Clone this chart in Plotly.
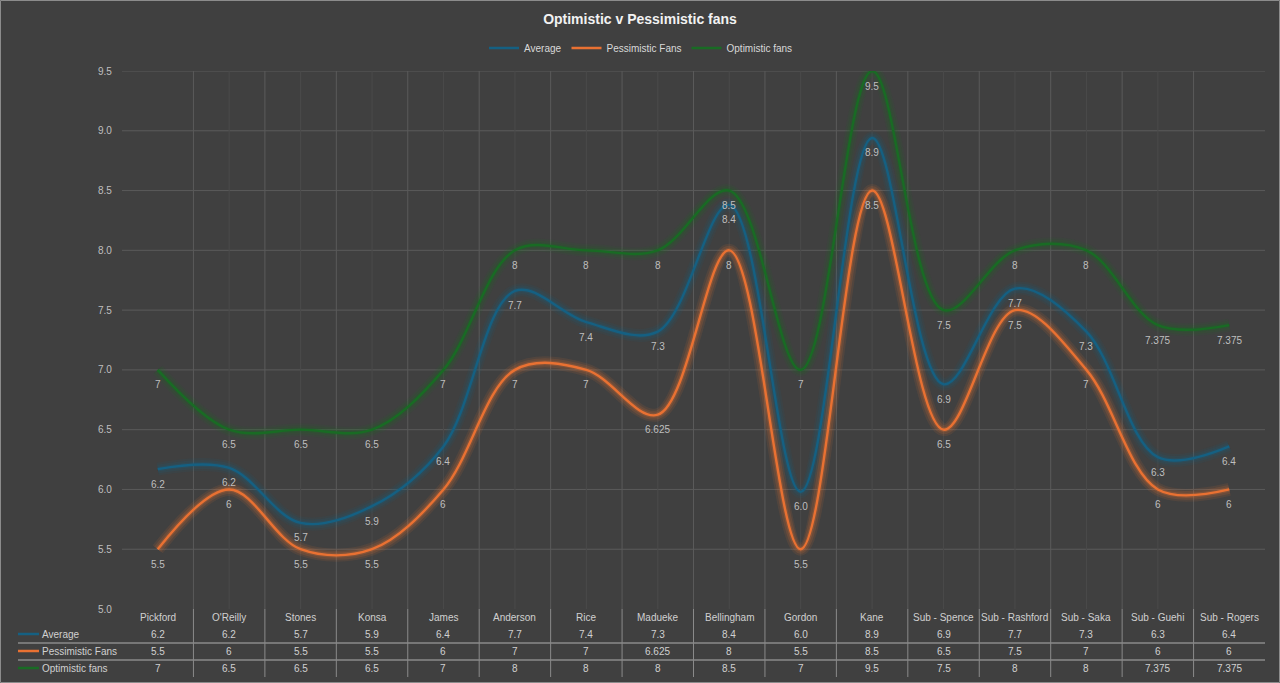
import plotly.graph_objects as go

# ---------------- data ----------------
players = ["Pickford", "O'Reilly", "Stones", "Konsa", "James", "Anderson", "Rice",
           "Madueke", "Bellingham", "Gordon", "Kane", "Sub - Spence",
           "Sub - Rashford", "Sub - Saka", "Sub - Guehi", "Sub - Rogers"]
average = [6.17, 6.18, 5.72, 5.86, 6.36, 7.66, 7.40, 7.32, 8.38, 5.98, 8.94,
           6.88, 7.68, 7.32, 6.27, 6.36]
pessimistic = [5.5, 6, 5.5, 5.5, 6, 7, 7, 6.625, 8, 5.5, 8.5, 6.5, 7.5, 7, 6, 6]
optimistic = [7, 6.5, 6.5, 6.5, 7, 8, 8, 8, 8.5, 7, 9.5, 7.5, 8, 8, 7.375, 7.375]
y_ticks = [5.0, 5.5, 6.0, 6.5, 7.0, 7.5, 8.0, 8.5, 9.0, 9.5]

series = [
    ("Average", average, "#156082", (21, 96, 130), lambda v: f"{v:.1f}"),
    ("Pessimistic Fans", pessimistic, "#E97132", (233, 113, 50), lambda v: f"{v:g}"),
    ("Optimistic fans", optimistic, "#196B24", (25, 107, 36), lambda v: f"{v:g}"),
]

# ---------------- geometry ----------------
W, H = 1280, 683
L, R, T, B = 122, 1265, 71, 609
PW, PH = R - L, B - T
n = len(players)
x = list(range(n))


def fx(px):
    return (px - L) / PW


def fy(py):
    return (B - py) / PH


BG = "#404040"
FONT = "Liberation Sans, Arial, sans-serif"
NARROW = "Liberation Sans Narrow, Arial Narrow, Liberation Sans, sans-serif"

fig = go.Figure()

# glow traces
for name, vals, col, rgb, fmt in series:
    for w, a in [(13, 0.10), (9, 0.15), (5, 0.22)]:
        fig.add_trace(go.Scatter(
            x=x, y=vals, mode="lines",
            line=dict(color=f"rgba({rgb[0]},{rgb[1]},{rgb[2]},{a})", width=w,
                      shape="spline", smoothing=1.0),
            hoverinfo="skip", showlegend=False))

for name, vals, col, rgb, fmt in series:
    fig.add_trace(go.Scatter(
        x=x, y=vals, mode="lines", name=name,
        line=dict(color=col, width=2.4, shape="spline", smoothing=1.0)))

shapes = []
# horizontal gridlines
for yv in y_ticks[1:]:
    shapes.append(dict(type="line", xref="paper", yref="y", x0=0, x1=1, y0=yv, y1=yv,
                       line=dict(color="#5a5a5a", width=1), layer="below"))
# vertical major gridlines (category boundaries) and minor (category centers)
for i in range(n - 1):
    xp = (i + 1) / n
    shapes.append(dict(type="line", xref="paper", yref="paper", x0=xp, x1=xp, y0=0, y1=1,
                       line=dict(color="#5a5a5a", width=1), layer="below"))
    if i >= 1:
        xc = (i + 0.5) / n
        shapes.append(dict(type="line", xref="paper", yref="paper", x0=xc, x1=xc, y0=0, y1=1,
                           line=dict(color="#4a4a4a", width=1), layer="below"))
    # table vertical lines
    shapes.append(dict(type="line", xref="paper", yref="paper", x0=xp, x1=xp,
                       y0=fy(609), y1=fy(677), line=dict(color="#8a8a8a", width=1)))
# table horizontal lines
for py in (643, 660):
    shapes.append(dict(type="line", xref="paper", yref="paper", x0=fx(18), x1=1,
                       y0=fy(py), y1=fy(py), line=dict(color="#8a8a8a", width=1.5)))
# table legend keys
row_y = [634, 651, 668]
for (name, vals, col, rgb, fmt), py in zip(series, row_y):
    shapes.append(dict(type="line", xref="paper", yref="paper", x0=fx(18), x1=fx(39),
                       y0=fy(py), y1=fy(py), line=dict(color=col, width=2.5)))
# outer border
shapes.append(dict(type="rect", xref="paper", yref="paper", x0=fx(0.5), x1=fx(1279.5),
                   y0=fy(0.5), y1=fy(682.5), line=dict(color="#8c8c8c", width=1)))

annotations = []
# data labels
for name, vals, col, rgb, fmt in series:
    for i, v in enumerate(vals):
        annotations.append(dict(x=i, y=v, xref="x", yref="y", text=fmt(v), showarrow=False,
                                yshift=-15, xanchor="center", yanchor="middle",
                                font=dict(family=FONT, size=10, color="#bfbfbf")))
# y tick labels
for yv in y_ticks:
    annotations.append(dict(x=0, y=yv, xref="paper", yref="y", text=f"{yv:.1f}", showarrow=False,
                            xanchor="right", yanchor="middle", xshift=-8,
                            font=dict(family=FONT, size=10, color="#bfbfbf")))
# table: category names
for i, p in enumerate(players):
    annotations.append(dict(x=i, y=fy(617), xref="x", yref="paper", text=p, showarrow=False,
                            xanchor="center", yanchor="middle",
                            font=dict(family=FONT, size=10, color="#d0d0d0")))
# table rows
for (name, vals, col, rgb, fmt), py in zip(series, row_y):
    annotations.append(dict(x=fx(40), y=fy(py), xref="paper", yref="paper", text=name,
                            showarrow=False, xanchor="left", yanchor="middle",
                            font=dict(family=FONT, size=10, color="#d0d0d0")))
    for i, v in enumerate(vals):
        annotations.append(dict(x=i, y=fy(py), xref="x", yref="paper", text=fmt(v),
                                showarrow=False, xanchor="center", yanchor="middle",
                                font=dict(family=FONT, size=10, color="#d0d0d0")))

fig.update_layout(
    width=W, height=H, autosize=False,
    margin=dict(l=L, r=W - R, t=T, b=H - B, pad=0, autoexpand=False),
    paper_bgcolor=BG, plot_bgcolor=BG,
    title=dict(text="<b>Optimistic v Pessimistic fans</b>", x=0.5, xref="container", xanchor="center",
               y=1 - 19 / H, yref="container", yanchor="middle",
               font=dict(family=NARROW, size=14, color="#f2f2f2")),
    legend=dict(orientation="h", x=fx(641), xref="paper", xanchor="center",
                y=fy(48), yref="paper", yanchor="middle",
                font=dict(family=NARROW, size=10, color="#d9d9d9"),
                bgcolor="rgba(0,0,0,0)", itemwidth=30),
    xaxis=dict(range=[-0.5, n - 0.5], showgrid=False, zeroline=False, showticklabels=False,
               showline=False, fixedrange=True),
    yaxis=dict(range=[5.0, 9.5], showgrid=False, zeroline=False, showticklabels=False,
               showline=False, fixedrange=True),
    shapes=shapes, annotations=annotations, showlegend=True,
)

fig.write_html("out.html")
